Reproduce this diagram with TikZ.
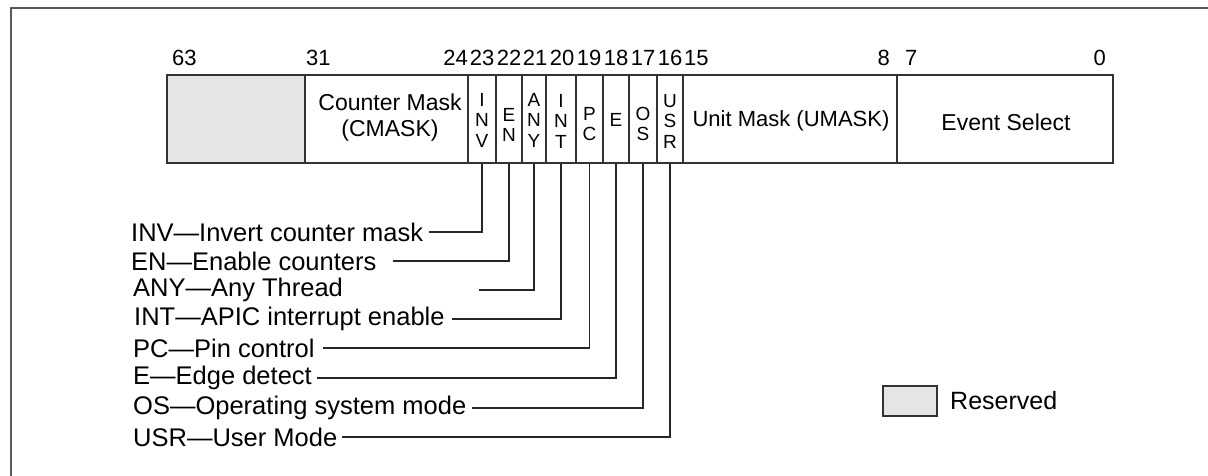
\documentclass[tikz,border=0pt]{standalone}
\usepackage{fontspec}
\setmainfont{Liberation Sans}
\begin{document}
\begin{tikzpicture}[x=1pt,y=-1pt,
  fld/.style={draw=black!80,line width=1.2pt,inner sep=0pt,minimum height=88pt},
  ftext/.style={font=\fontsize{23}{26}\selectfont,align=center,inner sep=0pt},
  bitnum/.style={font=\fontsize{22}{24}\selectfont,inner sep=0pt},
  lbl/.style={font=\fontsize{25.5}{28}\selectfont,anchor=west,inner sep=0pt},
  vlet/.style={font=\fontsize{19}{20.5}\selectfont,align=center,inner sep=0pt},
  conn/.style={draw=black!85,line width=1.2pt}]
\useasboundingbox (0,0) rectangle (1208,476);
\draw[black!65,line width=2pt] (11,476) -- (11,8) -- (1208,8);
% fields
\node[fld,fill=black!10,minimum width=138pt] (res) at (236,119) {};
\node[fld,minimum width=163pt] (cmask) at (386.5,119) {};
\node[fld,minimum width=28pt] (inv) at (482,119) {};
\node[fld,minimum width=26pt] (en) at (509,119) {};
\node[fld,minimum width=24pt] (any) at (534,119) {};
\node[fld,minimum width=30pt] (int) at (561,119) {};
\node[fld,minimum width=27pt] (pc) at (589.5,119) {};
\node[fld,minimum width=26pt] (e) at (616,119) {};
\node[fld,minimum width=28pt] (os) at (643,119) {};
\node[fld,minimum width=26pt] (usr) at (670,119) {};
\node[fld,minimum width=214pt] (umask) at (790,119) {};
\node[fld,minimum width=216pt] (evsel) at (1005,119) {};
% field texts
\node[ftext] (cmaskt) at (390,118) {Counter Mask\\(CMASK)};
\node[vlet] (invt) at (482,120) {I\\N\\V};
\node[vlet] (ent) at (509,125) {E\\N};
\node[vlet] (anyt) at (534,120) {A\\N\\Y};
\node[vlet] (intt) at (561,121) {I\\N\\T};
\node[vlet] (pct) at (589.5,124) {P\\C};
\node[vlet] (et) at (616,120) {E};
\node[vlet] (ost) at (643,124) {O\\S};
\node[vlet] (usrt) at (670,121) {U\\S\\R};
\node[ftext,font=\fontsize{22}{26}\selectfont] (umaskt) at (791,121) {Unit Mask (UMASK)};
\node[ftext] (evselt) at (1006,122) {Event Select};
% bit numbers
\node[bitnum,anchor=west] (b63) at (172,58) {63};
\node[bitnum,anchor=west] (b31) at (306,58) {31};
\node[bitnum,anchor=east] (b24) at (468,58) {24};
\node[bitnum] (b23) at (482,58) {23};
\node[bitnum] (b22) at (509,58) {22};
\node[bitnum] (b21) at (535,58) {21};
\node[bitnum] (b20) at (562,58) {20};
\node[bitnum] (b19) at (589,58) {19};
\node[bitnum] (b18) at (616,58) {18};
\node[bitnum] (b17) at (643,58) {17};
\node[bitnum] (b16) at (670,58) {16};
\node[bitnum,anchor=west] (b15) at (684,58) {15};
\node[bitnum,anchor=east] (b8) at (890,58) {8};
\node[bitnum,anchor=west] (b7) at (905,58) {7};
\node[bitnum,anchor=east] (b0) at (1106,58) {0};
% labels
\node[lbl] (linv) at (131,232) {INV—Invert counter mask};
\node[lbl] (len) at (131,261) {EN—Enable counters};
\node[lbl] (lany) at (133,290) {ANY—Any Thread};
\node[lbl] (lint) at (134,319) {INT—APIC interrupt enable};
\node[lbl] (lpc) at (133,348) {PC—Pin control};
\node[lbl] (le) at (133,378) {E—Edge detect};
\node[lbl] (los) at (133,408) {OS—Operating system mode};
\node[lbl] (lusr) at (133,437) {USR—User Mode};
% connector ends
\coordinate (cinv) at (429,232);
\coordinate (cen) at (393,261);
\coordinate (cany) at (479,290);
\coordinate (cint) at (452,319);
\coordinate (cpc) at (323,348);
\coordinate (ce) at (317,378);
\coordinate (cos) at (472,408);
\coordinate (cusr) at (342,437);
\draw[conn] (inv.south) |- (cinv);
\draw[conn] (en.south) |- (cen);
\draw[conn] (any.south) |- (cany);
\draw[conn] (int.south) |- (cint);
\draw[conn] (pc.south) |- (cpc);
\draw[conn] (e.south) |- (ce);
\draw[conn] (os.south) |- (cos);
\draw[conn] (usr.south) |- (cusr);
% legend
\node[draw=black!80,line width=1.2pt,fill=black!10,minimum width=54pt,minimum height=30pt,inner sep=0pt] (legbox) at (910,401) {};
\node[lbl,font=\fontsize{25}{28}\selectfont] (legtxt) at (950,401) {Reserved};
\end{tikzpicture}
\end{document}
